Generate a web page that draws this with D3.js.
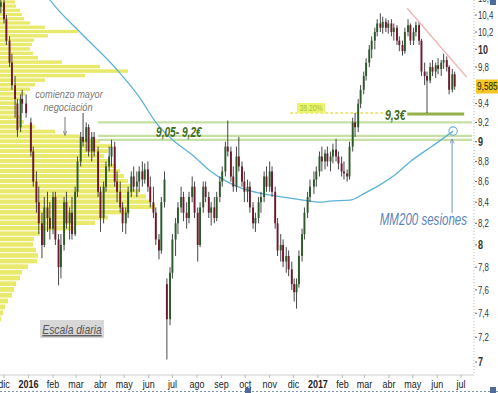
<!DOCTYPE html>
<html>
<head>
<meta charset="utf-8">
<script src="https://cdn.jsdelivr.net/npm/d3@7"></script>
<style>
  body { margin: 0; background: #fff; }
  svg { display: block; font-family: "Liberation Sans", Arial, sans-serif; }
</style>
</head>
<body>
<div id="chart"></div>
<script>
// daily-scale chart, candles sampled twice a week: date, open, high, low, close
var candles = [
  ["2015-11-27",10.50,10.62,10.42,10.55],["2015-12-01",10.55,10.62,10.30,10.35],["2015-12-04",10.35,10.40,10.05,10.10],
  ["2015-12-08",10.10,10.15,9.80,9.85],["2015-12-11",9.85,9.95,9.55,9.60],["2015-12-15",9.60,9.70,9.25,9.45],
  ["2015-12-18",9.40,9.45,9.05,9.12],["2015-12-22",9.15,9.50,9.10,9.45],["2015-12-24",9.45,9.55,9.30,9.40],
  ["2015-12-29",9.40,9.50,9.25,9.30],["2016-01-04",9.20,9.25,8.85,8.90],["2016-01-07",8.90,8.95,8.55,8.60],
  ["2016-01-11",8.60,8.70,8.30,8.40],["2016-01-14",8.40,8.55,8.10,8.20],["2016-01-18",8.20,8.30,7.88,8.00],
  ["2016-01-21",8.00,8.45,7.98,8.35],["2016-01-25",8.35,8.50,8.12,8.25],["2016-01-28",8.25,8.40,8.05,8.15],
  ["2016-02-01",8.15,8.50,8.10,8.45],["2016-02-04",8.45,8.50,8.00,8.05],["2016-02-08",8.05,8.10,7.64,7.80],
  ["2016-02-11",7.80,8.10,7.70,8.00],["2016-02-15",8.00,8.45,7.95,8.40],["2016-02-18",8.40,8.50,8.15,8.20],
  ["2016-02-22",8.20,8.35,8.05,8.30],["2016-02-25",8.30,8.45,8.05,8.10],["2016-02-29",8.10,8.55,8.08,8.50],
  ["2016-03-03",8.50,8.85,8.45,8.80],["2016-03-07",8.80,9.10,8.75,9.05],["2016-03-10",9.05,9.30,8.95,9.00],
  ["2016-03-14",9.00,9.20,8.90,9.15],["2016-03-17",9.15,9.18,8.85,8.90],["2016-03-21",8.90,9.10,8.80,9.05],
  ["2016-03-24",9.05,9.10,8.85,8.90],["2016-03-29",8.90,8.95,8.45,8.50],["2016-04-01",8.50,8.55,8.12,8.25],
  ["2016-04-05",8.25,8.60,8.20,8.55],["2016-04-08",8.55,8.80,8.50,8.75],["2016-04-12",8.75,8.95,8.70,8.85],
  ["2016-04-15",8.85,9.02,8.75,8.95],["2016-04-19",8.95,9.00,8.55,8.60],["2016-04-22",8.60,8.70,8.40,8.50],
  ["2016-04-26",8.50,8.60,8.30,8.35],["2016-04-29",8.35,8.40,8.12,8.20],["2016-05-03",8.20,8.35,8.10,8.30],
  ["2016-05-06",8.30,8.55,8.25,8.50],["2016-05-10",8.50,8.70,8.45,8.65],["2016-05-13",8.65,8.75,8.50,8.55],
  ["2016-05-17",8.55,8.70,8.45,8.60],["2016-05-20",8.60,8.75,8.50,8.70],["2016-05-24",8.70,8.80,8.55,8.62],
  ["2016-05-27",8.62,8.78,8.58,8.72],["2016-05-31",8.72,8.80,8.50,8.55],["2016-06-03",8.55,8.65,8.35,8.40],
  ["2016-06-07",8.40,8.55,8.25,8.30],["2016-06-10",8.30,8.35,8.00,8.05],["2016-06-14",8.05,8.10,7.87,7.95],
  ["2016-06-17",7.95,8.45,7.92,8.40],["2016-06-21",8.40,8.70,8.35,8.62],["2016-06-24",7.65,7.70,7.02,7.35],
  ["2016-06-28",7.35,7.80,7.30,7.75],["2016-07-01",7.75,8.10,7.70,8.05],["2016-07-05",8.05,8.25,7.90,8.20],
  ["2016-07-08",8.20,8.40,8.10,8.35],["2016-07-12",8.35,8.55,8.30,8.45],["2016-07-15",8.45,8.50,8.22,8.30],
  ["2016-07-19",8.30,8.40,8.15,8.25],["2016-07-22",8.25,8.50,8.20,8.45],["2016-07-26",8.45,8.65,8.40,8.55],
  ["2016-07-29",8.55,8.60,8.25,8.30],["2016-08-02",8.30,8.35,7.85,8.00],["2016-08-05",8.00,8.40,7.98,8.35],
  ["2016-08-09",8.35,8.60,8.30,8.55],["2016-08-12",8.55,8.60,8.40,8.45],["2016-08-16",8.45,8.50,8.25,8.30],
  ["2016-08-19",8.30,8.40,8.18,8.35],["2016-08-23",8.35,8.45,8.20,8.25],["2016-08-26",8.25,8.50,8.22,8.45],
  ["2016-08-30",8.45,8.65,8.40,8.60],["2016-09-02",8.60,8.75,8.55,8.70],["2016-09-06",8.70,9.00,8.65,8.95],
  ["2016-09-09",8.95,9.22,8.85,8.90],["2016-09-13",8.90,8.95,8.60,8.65],["2016-09-16",8.65,8.75,8.50,8.55],
  ["2016-09-20",8.55,8.95,8.50,8.85],["2016-09-23",8.85,9.05,8.70,8.75],["2016-09-27",8.75,8.80,8.55,8.60],
  ["2016-09-30",8.60,8.70,8.40,8.50],["2016-10-04",8.50,8.62,8.40,8.55],["2016-10-07",8.55,8.60,8.30,8.35],
  ["2016-10-11",8.35,8.40,8.15,8.20],["2016-10-14",8.20,8.30,8.12,8.25],["2016-10-18",8.25,8.45,8.20,8.40],
  ["2016-10-21",8.40,8.50,8.30,8.45],["2016-10-25",8.45,8.70,8.40,8.65],["2016-10-28",8.65,8.75,8.50,8.55],
  ["2016-11-01",8.55,8.80,8.50,8.70],["2016-11-04",8.70,8.75,8.45,8.50],["2016-11-08",8.50,8.55,8.15,8.20],
  ["2016-11-11",8.20,8.25,7.90,7.95],["2016-11-15",7.95,8.10,7.85,8.00],["2016-11-18",8.00,8.05,7.80,7.85],
  ["2016-11-22",7.85,7.98,7.75,7.90],["2016-11-25",7.90,7.95,7.72,7.78],["2016-11-29",7.78,7.85,7.60,7.65],
  ["2016-12-02",7.65,7.70,7.50,7.58],["2016-12-05",7.58,7.70,7.44,7.65],["2016-12-08",7.65,7.95,7.62,7.90],
  ["2016-12-12",7.90,8.15,7.85,8.10],["2016-12-15",8.10,8.35,8.05,8.30],["2016-12-19",8.30,8.50,8.25,8.45],
  ["2016-12-22",8.45,8.62,8.40,8.55],["2016-12-27",8.55,8.70,8.48,8.62],["2016-12-30",8.62,8.75,8.55,8.70],
  ["2017-01-03",8.70,8.90,8.65,8.85],["2017-01-06",8.85,8.95,8.70,8.80],["2017-01-10",8.80,8.92,8.72,8.88],
  ["2017-01-13",8.88,8.95,8.75,8.80],["2017-01-17",8.80,8.90,8.70,8.85],["2017-01-20",8.85,8.98,8.78,8.92],
  ["2017-01-24",8.92,9.03,8.80,8.85],["2017-01-27",8.85,8.90,8.72,8.78],["2017-01-31",8.78,8.85,8.65,8.70],
  ["2017-02-03",8.70,8.80,8.62,8.68],["2017-02-07",8.68,8.72,8.60,8.65],["2017-02-10",8.65,9.00,8.62,8.95],
  ["2017-02-14",8.95,9.25,8.90,9.20],["2017-02-17",9.20,9.30,9.05,9.15],["2017-02-21",9.15,9.45,9.10,9.40],
  ["2017-02-24",9.40,9.60,9.35,9.55],["2017-02-28",9.55,9.75,9.50,9.70],["2017-03-03",9.70,9.90,9.65,9.85],
  ["2017-03-07",9.85,10.05,9.80,10.00],["2017-03-10",10.00,10.15,9.90,10.10],["2017-03-14",10.10,10.25,10.00,10.20],
  ["2017-03-17",10.20,10.35,10.15,10.30],["2017-03-21",10.30,10.42,10.20,10.25],["2017-03-24",10.25,10.38,10.18,10.32],
  ["2017-03-28",10.32,10.36,10.20,10.25],["2017-03-31",10.25,10.34,10.18,10.30],["2017-04-04",10.30,10.35,10.15,10.20],
  ["2017-04-07",10.20,10.30,10.10,10.25],["2017-04-11",10.25,10.28,10.05,10.10],["2017-04-14",10.10,10.15,9.98,10.05],
  ["2017-04-18",10.05,10.10,9.93,9.98],["2017-04-21",9.98,10.25,9.95,10.20],["2017-04-25",10.20,10.35,10.15,10.28],
  ["2017-04-28",10.28,10.30,10.05,10.10],["2017-05-02",10.10,10.25,10.05,10.20],["2017-05-05",10.20,10.32,10.15,10.28],
  ["2017-05-09",10.28,10.32,10.05,10.10],["2017-05-12",10.10,10.12,9.70,9.75],["2017-05-16",9.75,9.85,9.60,9.70],
  ["2017-05-19",9.70,9.75,9.30,9.65],["2017-05-23",9.65,9.85,9.62,9.80],["2017-05-26",9.80,9.88,9.70,9.75],
  ["2017-05-30",9.75,9.85,9.68,9.82],["2017-06-02",9.82,9.90,9.72,9.78],["2017-06-06",9.78,9.88,9.70,9.85],
  ["2017-06-09",9.85,9.95,9.78,9.88],["2017-06-13",9.88,9.92,9.75,9.80],["2017-06-16",9.80,9.82,9.50,9.55],
  ["2017-06-20",9.55,9.78,9.52,9.72],["2017-06-23",9.72,9.75,9.55,9.585]
];

// 200-session moving average
var mmDates  = ["2016-01-22","2016-01-28","2016-03-06","2016-04-22","2016-05-21","2016-06-11","2016-07-04","2016-07-27",
                "2016-08-17","2016-09-08","2016-09-28","2016-10-24","2016-11-27","2016-12-23","2017-01-04","2017-01-16",
                "2017-02-11","2017-03-02","2017-03-21","2017-04-09","2017-04-28","2017-05-23","2017-06-11","2017-06-21"];
var mmValues = [10.66,10.58,10.20,9.77,9.46,9.19,9.00,8.86,
                8.71,8.60,8.53,8.48,8.44,8.41,8.40,8.41,
                8.42,8.49,8.57,8.67,8.80,8.94,9.05,9.11];

// volume by price (left side profile)
var profilePrices = [10.60,10.55,10.50,10.45,10.40,10.35,10.30,10.25,10.20,10.15,10.10,10.05,10.00,9.95,9.90,9.85,9.80,9.75,
                     9.70,9.65,9.60,9.55,9.50,9.45,9.40,9.35,9.30,9.25,9.20,9.15,9.10,9.05,9.00,8.95,8.90,8.85,8.80,8.75,
                     8.70,8.65,8.60,8.55,8.50,8.45,8.40,8.35,8.30,8.25,8.20,8.15,8.10,8.05,8.00,7.95,7.90,7.85,7.80,7.75,
                     7.70,7.65,7.60,7.55,7.50,7.45,7.40,7.35];
var profileVolumes = [15,15,16,20,22,24,30,45,78,48,34,32,30,33,38,62,100,128,
                      85,45,35,30,25,20,18,17,18,20,24,35,55,80,100,112,108,104,110,116,
                      120,124,128,132,140,146,150,155,130,108,95,75,40,34,33,36,38,37,28,22,
                      20,16,14,12,8,5,3,1];

var yTicks = [7,7.2,7.4,7.6,7.8,8,8.2,8.4,8.6,8.8,9,9.2,9.4,9.8,10,10.2,10.4,10.6];
var monthNames = ["ene","feb","mar","abr","may","jun","jul","ago","sep","oct","nov","dic"];
var zoneLevels = [9.2, 9.06, 9.02];
var lastPrice = 9.585;

var width = 498, height = 393;
var plotRight = 474, plotBottom = 375;

var parse = d3.timeParse("%Y-%m-%d");
var fmt = function (v) { return String(v).replace(".", ","); };

var x = d3.scaleTime()
    .domain([new Date(2015, 11, 1), new Date(2017, 6, 1)])
    .range([4, 461]);
var y = d3.scaleLog()
    .domain([7, 10.4])
    .range([362, 15]);
var vx = d3.scaleLinear().domain([0, 160]).range([0, 160]);

var svg = d3.select("#chart").append("svg")
    .attr("width", width)
    .attr("height", height);

// narrow text: the original uses a condensed face, so squeeze a regular one
function narrow(parent, px, py, sx) {
    return parent.append("g")
        .attr("transform", "translate(" + px + "," + py + ") scale(" + sx + ",1)")
        .append("text");
}

var defs = svg.append("defs");
defs.append("clipPath").attr("id", "plot")
    .append("rect").attr("x", 0).attr("y", 0).attr("width", plotRight).attr("height", plotBottom);

function arrowMarker(id, color) {
    defs.append("marker")
        .attr("id", id).attr("viewBox", "0 0 10 10").attr("refX", 9).attr("refY", 5)
        .attr("markerWidth", 5).attr("markerHeight", 5).attr("orient", "auto")
        .append("path").attr("d", "M0,1 L10,5 L0,9").attr("fill", "none")
        .attr("stroke", color).attr("stroke-width", 1.5);
}
arrowMarker("arrowGray", "#777");
arrowMarker("arrowBlue", "#6f8fbf");

var plot = svg.append("g").attr("clip-path", "url(#plot)");

// volume profile
var bins = profilePrices.map(function (p, i) { return { p: p, v: profileVolumes[i] }; });
plot.selectAll("rect.vol")
    .data(bins)
    .enter()
    .append("rect")
    .attr("class", "vol")
    .attr("x", 0)
    .attr("y", function (d) { return y(d.p + 0.025); })
    .attr("width", function (d) { return vx(d.v); })
    .attr("height", function (d) { return Math.max(1, y(d.p - 0.025) - y(d.p + 0.025) - 1); })
    .attr("fill", "#e9e96c");

// support zone 9,05 - 9,2
plot.selectAll("line.zone")
    .data(zoneLevels)
    .enter()
    .append("line")
    .attr("x1", x(new Date(2016, 2, 29)))
    .attr("x2", 472)
    .attr("y1", function (d) { return y(d); })
    .attr("y2", function (d) { return y(d); })
    .attr("stroke", "#c6e0a4")
    .attr("stroke-width", 2.2);

// 38.2% retracement level and 9,3 support
plot.append("line")
    .attr("x1", x(new Date(2016, 10, 27))).attr("x2", x(new Date(2017, 3, 1)))
    .attr("y1", y(9.3)).attr("y2", y(9.3))
    .attr("stroke", "#e4e45a").attr("stroke-width", 1.5).attr("stroke-dasharray", "3,2");
plot.append("line")
    .attr("x1", x(new Date(2017, 3, 24))).attr("x2", x(new Date(2017, 6, 5)))
    .attr("y1", y(9.29)).attr("y2", y(9.29))
    .attr("stroke", "#94b04a").attr("stroke-width", 3);

// MM200
var mm = mmDates.map(function (d, i) { return { date: parse(d), v: mmValues[i] }; });
plot.append("path")
    .datum(mm)
    .attr("fill", "none")
    .attr("stroke", "#5db3d6")
    .attr("stroke-width", 1.3)
    .attr("d", d3.line().curve(d3.curveMonotoneX)
        .x(function (d) { return x(d.date); })
        .y(function (d) { return y(d.v); }));

// candles
var data = candles.map(function (r) { return { date: parse(r[0]), o: r[1], h: r[2], l: r[3], c: r[4] }; });
var bw = 1.9;
var cg = plot.selectAll("g.candle").data(data).enter().append("g");
cg.append("line")
    .attr("x1", function (d) { return x(d.date); })
    .attr("x2", function (d) { return x(d.date); })
    .attr("y1", function (d) { return y(d.h); })
    .attr("y2", function (d) { return y(d.l); })
    .attr("stroke", "#333")
    .attr("stroke-width", 0.9);
cg.append("rect")
    .attr("x", function (d) { return x(d.date) - bw / 2; })
    .attr("y", function (d) { return y(Math.max(d.o, d.c)); })
    .attr("width", bw)
    .attr("height", function (d) { return Math.max(1, Math.abs(y(d.o) - y(d.c))); })
    .attr("fill", function (d) { return d.c >= d.o ? "#2c5a29" : "#6e1a2e"; });

// falling trendline
plot.append("line")
    .attr("x1", x(new Date(2017, 3, 24))).attr("y1", y(10.48))
    .attr("x2", x(new Date(2017, 6, 8))).attr("y2", y(9.69))
    .attr("stroke", "#f2b4b4").attr("stroke-width", 1.3);

// MM200 marker circle
var lastMM = mm[mm.length - 1];
svg.append("circle")
    .attr("cx", x(lastMM.date)).attr("cy", y(lastMM.v)).attr("r", 4.2)
    .attr("fill", "none").attr("stroke", "#6fb0d8").attr("stroke-width", 1.1);
svg.append("line")
    .attr("x1", x(lastMM.date) - 1).attr("x2", x(lastMM.date) - 1)
    .attr("y1", 213).attr("y2", y(lastMM.v) + 8)
    .attr("stroke", "#6f8fbf").attr("stroke-width", 1)
    .attr("marker-end", "url(#arrowBlue)");

// axes
svg.append("line")
    .attr("x1", 0).attr("x2", plotRight).attr("y1", plotBottom).attr("y2", plotBottom)
    .attr("stroke", "#cfcfcf").attr("stroke-width", 1);
svg.append("line")
    .attr("x1", plotRight).attr("x2", plotRight).attr("y1", 0).attr("y2", plotBottom)
    .attr("stroke", "#bdbdbd").attr("stroke-width", 1).attr("stroke-dasharray", "1,2");

var months = d3.timeMonth.range(new Date(2015, 11, 1), new Date(2017, 6, 2));
var xt = svg.selectAll("g.xtick").data(months).enter().append("g")
    .attr("transform", function (d) { return "translate(" + x(d) + ",0)"; });
xt.append("line").attr("y1", plotBottom).attr("y2", plotBottom + 3).attr("stroke", "#bbb");
xt.append("g").attr("transform", "translate(0,388) scale(0.78,1)")
    .append("text")
    .attr("text-anchor", "middle")
    .attr("font-size", 11.5)
    .attr("font-weight", function (d) { return d.getMonth() === 0 ? "bold" : "normal"; })
    .attr("fill", "#222")
    .text(function (d) { return d.getMonth() === 0 ? d.getFullYear() : monthNames[d.getMonth()]; });

var yt = svg.selectAll("g.ytick").data(yTicks).enter().append("g")
    .attr("transform", function (d) { return "translate(" + plotRight + "," + y(d) + ")"; });
yt.append("line").attr("x1", 1).attr("x2", 3).attr("stroke", "#666");
yt.append("g").attr("transform", "translate(4,0) scale(0.75,1)")
    .append("text")
    .attr("dy", "0.35em")
    .attr("font-size", function (d) { return Number.isInteger(d) ? 12 : 10.5; })
    .attr("font-weight", function (d) { return Number.isInteger(d) ? "bold" : "normal"; })
    .attr("fill", "#333")
    .text(function (d) { return fmt(d); });

// last price tag
svg.append("rect")
    .attr("x", plotRight + 2).attr("y", y(lastPrice) - 7).attr("width", 22).attr("height", 14)
    .attr("fill", "#f3c623");
narrow(svg, plotRight + 3, y(lastPrice), 0.75)
    .attr("dy", "0.35em")
    .attr("font-size", 11).attr("fill", "#222")
    .text(fmt(lastPrice));

// annotations
narrow(svg, 156, y(9.06) + 1, 0.7)
    .attr("font-size", 14.5).attr("font-weight", "bold").attr("font-style", "italic")
    .attr("fill", "#3f6d1c")
    .text("9,05- 9,2€");

narrow(svg, 385, y(9.3) + 7, 0.68)
    .attr("font-size", 15.5).attr("font-weight", "bold").attr("font-style", "italic")
    .attr("fill", "#3f6d1c")
    .text("9,3€");

svg.append("rect")
    .attr("x", 297).attr("y", 103).attr("width", 28).attr("height", 10)
    .attr("fill", "#eef46a");
narrow(svg, 311, 111, 0.75)
    .attr("text-anchor", "middle")
    .attr("font-size", 9).attr("fill", "#a2c044")
    .text("38.20%");

narrow(svg, 69, 98, 0.8)
    .attr("text-anchor", "middle")
    .attr("font-size", 11.5).attr("font-style", "italic").attr("fill", "#7a7a7a")
    .text("comienzo mayor");
narrow(svg, 68, 111, 0.8)
    .attr("text-anchor", "middle")
    .attr("font-size", 11.5).attr("font-style", "italic").attr("fill", "#7a7a7a")
    .text("negociación");
svg.append("line")
    .attr("x1", 65).attr("x2", 65).attr("y1", 117).attr("y2", 135)
    .attr("stroke", "#777").attr("stroke-width", 1)
    .attr("marker-end", "url(#arrowGray)");

narrow(svg, 467, 225, 0.7)
    .attr("text-anchor", "end")
    .attr("font-size", 16.5).attr("font-style", "italic").attr("fill", "#5b84b9")
    .text("MM200 sesiones");

svg.append("rect")
    .attr("x", 40).attr("y", 320).attr("width", 64).attr("height", 18)
    .attr("fill", "#d8d8d8");
narrow(svg, 72, 334, 0.8)
    .attr("text-anchor", "middle")
    .attr("font-size", 13).attr("font-style", "italic").attr("fill", "#555")
    .attr("text-decoration", "underline")
    .text("Escala diaria");

// selection frame bits
svg.append("line")
    .attr("x1", 0).attr("x2", width).attr("y1", 391.5).attr("y2", 391.5)
    .attr("stroke", "#7f93b5").attr("stroke-width", 1).attr("stroke-dasharray", "2,2");
svg.append("rect").attr("x", 490).attr("y", 0).attr("width", 6).attr("height", 5).attr("fill", "#4d6c9c");
svg.append("rect").attr("x", 490).attr("y", 387).attr("width", 6).attr("height", 6).attr("fill", "#4d6c9c");
svg.append("rect").attr("x", 245).attr("y", 388).attr("width", 6).attr("height", 5).attr("fill", "#4d6c9c");
</script>
</body>
</html>
